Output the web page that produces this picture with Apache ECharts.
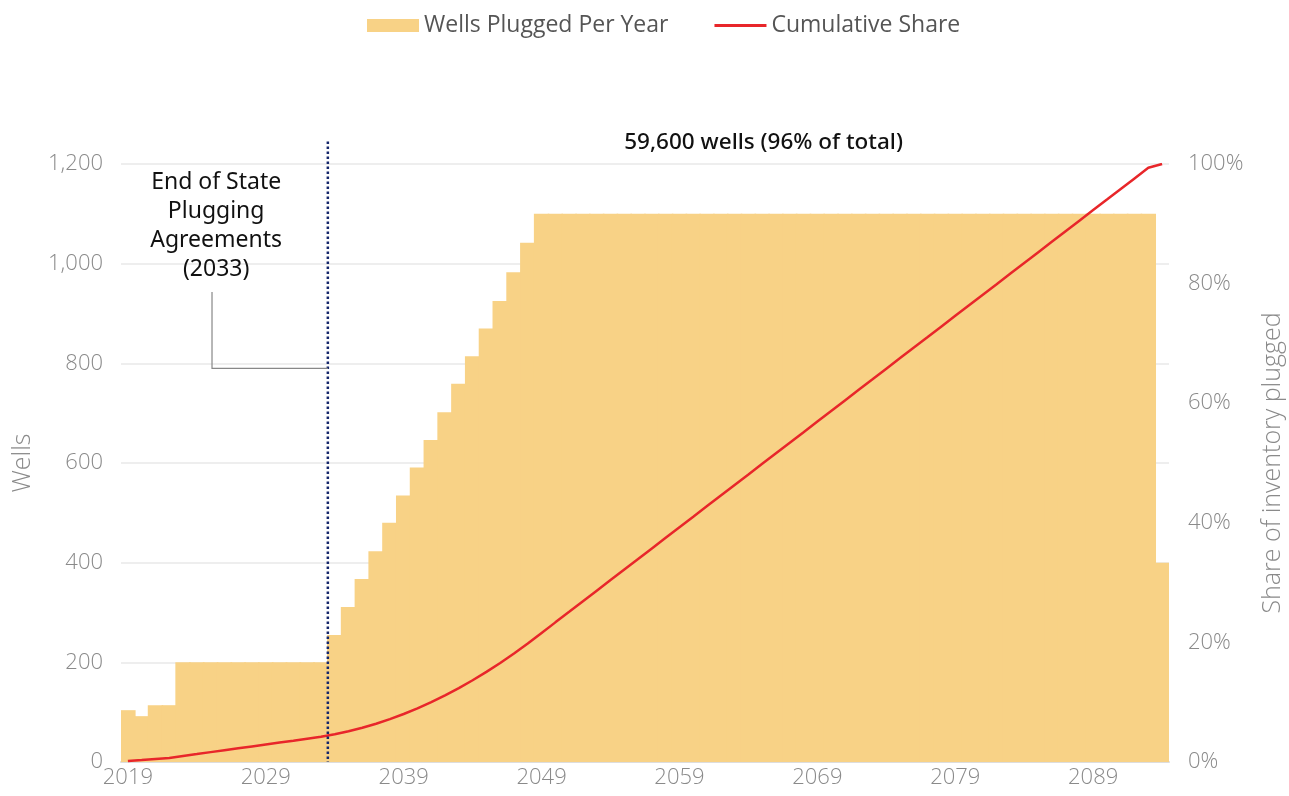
<!DOCTYPE html>
<html><head><meta charset="utf-8">
<script src="https://cdn.jsdelivr.net/npm/echarts@6/dist/echarts.min.js"></script>
<style>html,body{margin:0;padding:0;background:#fff}#c{width:1289px;height:796px}</style>
</head><body><div id="c"></div>
<script>
var years = [];
for (var y = 2019; y <= 2094; y++) years.push(String(y));

var wells = [104, 92, 114, 114,
  200, 200, 200, 200, 200, 200, 200, 200, 200, 200, 200,
  255, 311, 367, 423, 480, 535, 591, 646, 702, 759, 814, 870, 925, 983, 1042,
  1100, 1100, 1100, 1100, 1100, 1100, 1100, 1100, 1100, 1100,
  1100, 1100, 1100, 1100, 1100, 1100, 1100, 1100, 1100, 1100,
  1100, 1100, 1100, 1100, 1100, 1100, 1100, 1100, 1100, 1100,
  1100, 1100, 1100, 1100, 1100, 1100, 1100, 1100, 1100, 1100,
  1100, 1100, 1100, 1100, 1100,
  400];

var share = [0.17, 0.32, 0.50, 0.68,
  1.00, 1.32, 1.65, 1.97, 2.29, 2.61, 2.93, 3.25, 3.57, 3.90, 4.22,
  4.63, 5.13, 5.72, 6.40, 7.17, 8.03, 8.98, 10.02, 11.14, 12.36, 13.67, 15.07, 16.56, 18.14, 19.81,
  21.58, 23.35, 25.11, 26.88, 28.65, 30.42, 32.18, 33.95, 35.72, 37.49,
  39.26, 41.02, 42.79, 44.56, 46.33, 48.09, 49.86, 51.63, 53.40, 55.16,
  56.93, 58.70, 60.47, 62.24, 64.00, 65.77, 67.54, 69.31, 71.07, 72.84,
  74.61, 76.38, 78.15, 79.91, 81.68, 83.45, 85.22, 86.98, 88.75, 90.52,
  92.29, 94.05, 95.82, 97.59, 99.36,
  100];

var leftTicks = [0, 200, 400, 600, 800, 1000, 1200];
var rightTicks = [0, 20, 40, 60, 80, 100];

var FONT = '"Open Sans"';
var chart = echarts.init(document.getElementById('c'));
var axisLabel = {color: '#8a8a8a', fontSize: 22, fontFamily: FONT, fontWeight: 300};
var BAR = '#F8D286';

chart.setOption({
  animation: false,
  legend: {
    left: 367, top: 14, padding: 0,
    itemWidth: 52, itemHeight: 13, itemGap: 46,
    textStyle: {color: '#555', fontSize: 23, fontFamily: FONT, fontWeight: 400},
    data: [
      {name: 'Wells Plugged Per Year', icon: 'rect'},
      {name: 'Cumulative Share', icon: 'path://M0,0h52v3h-52z'}
    ]
  },
  grid: {left: 121, right: 120, top: 164, bottom: 34, containLabel: false, outerBoundsMode: 'none'},
  xAxis: {
    type: 'category', data: years,
    axisLine: {show: true, lineStyle: {color: '#ddd', width: 2}},
    axisTick: {show: false},
    axisLabel: Object.assign({interval: 9, margin: 5}, axisLabel)
  },
  yAxis: [
    {
      type: 'value', min: leftTicks[0], max: leftTicks[leftTicks.length - 1], interval: 200,
      name: 'Wells', nameLocation: 'middle', nameGap: 86, nameRotate: 90,
      nameTextStyle: {color: '#8a8a8a', fontSize: 25, fontFamily: FONT, fontWeight: 300},
      axisLine: {show: false}, axisTick: {show: false},
      axisLabel: Object.assign({margin: 18, formatter: function (v) { return v.toLocaleString('en-US'); }}, axisLabel),
      splitLine: {lineStyle: {color: '#eeeeee', width: 2}}
    },
    {
      type: 'value', min: rightTicks[0], max: rightTicks[rightTicks.length - 1], interval: 20,
      name: 'Share of inventory plugged', nameLocation: 'middle', nameGap: 91, nameRotate: 90,
      nameTextStyle: {color: '#8a8a8a', fontSize: 25, fontFamily: FONT, fontWeight: 300},
      axisLine: {show: false}, axisTick: {show: false},
      axisLabel: Object.assign({margin: 19, formatter: '{value}%'}, axisLabel),
      splitLine: {show: false}
    }
  ],
  series: [
    {
      name: 'Wells Plugged Per Year', type: 'bar', data: wells, yAxisIndex: 0,
      barWidth: 15.4, barGap: '0%',
      itemStyle: {color: BAR}, z: 1
    },
    {
      name: 'Cumulative Share', type: 'line', data: share, yAxisIndex: 1,
      symbol: 'none', smooth: false,
      lineStyle: {color: '#E8262A', width: 2.5}, itemStyle: {color: '#E8262A'}, z: 3
    }
  ]
});

function xAt(yearFloat) {
  var x0 = chart.convertToPixel({xAxisIndex: 0}, '2019');
  var x1 = chart.convertToPixel({xAxisIndex: 0}, '2020');
  return x0 + (yearFloat - 2019) * (x1 - x0);
}
function yAt(v) { return chart.convertToPixel({yAxisIndex: 0}, v); }

var xLine = xAt(2033.5);
var xConn = xAt(2025.1);
chart.setOption({
  graphic: [
    {type: 'line', z: 10, shape: {x1: xLine, y1: yAt(1245), x2: xLine, y2: yAt(0)},
      style: {stroke: '#14266b', lineWidth: 2.5, lineDash: [2.5, 2.5]}},
    {type: 'polyline', z: 10, shape: {points: [[xConn, yAt(943)], [xConn, yAt(790)], [xLine, yAt(790)]]},
      style: {stroke: '#888', lineWidth: 1.2, fill: null}},
    {type: 'text', z: 10, x: xAt(2025.4), y: yAt(1076),
      style: {text: 'End of State\nPlugging\nAgreements\n(2033)', fill: '#111', font: '400 23px "Noto Sans"',
        align: 'center', verticalAlign: 'middle', lineHeight: 29}},
    {type: 'text', z: 10, x: xAt(2065.1), y: yAt(1242),
      style: {text: '59,600 wells (96% of total)', fill: '#111', font: '500 22.5px "Noto Sans"',
        align: 'center', verticalAlign: 'middle'}}
  ]
});
</script></body></html>
